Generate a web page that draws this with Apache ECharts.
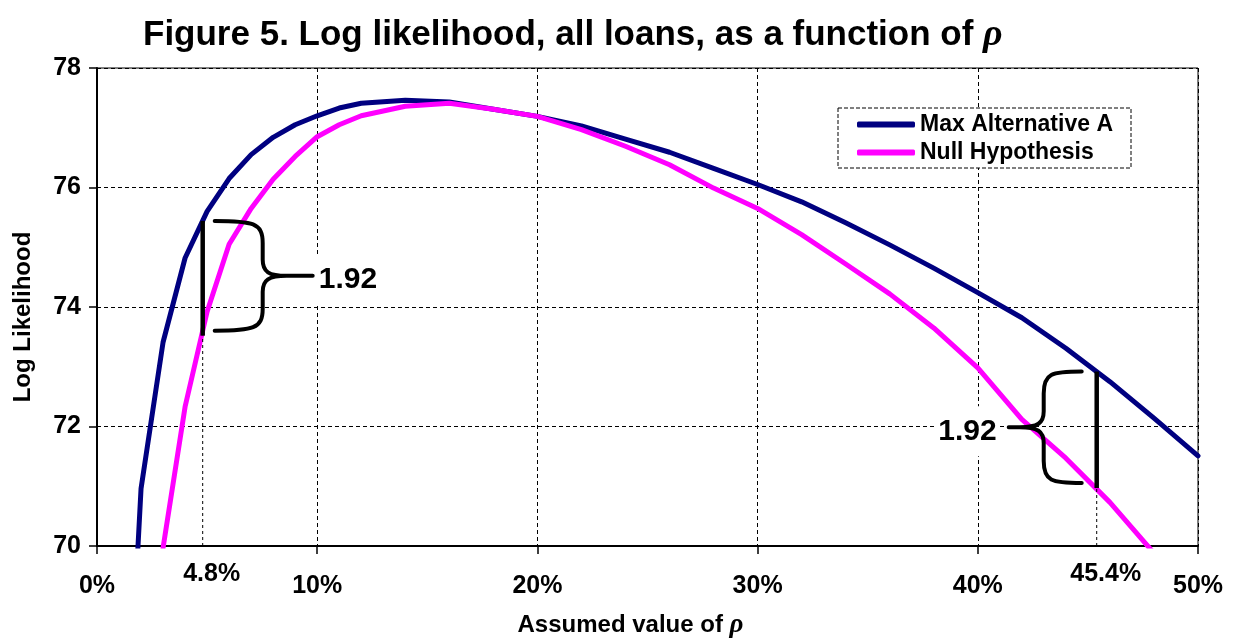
<!DOCTYPE html>
<html>
<head>
<meta charset="utf-8">
<script src="https://cdn.jsdelivr.net/npm/echarts@6/dist/echarts.min.js"></script>
<style>
    html, body { margin: 0; padding: 0; background: #fff; }
    #main { width: 1233px; height: 644px; }
</style>
</head>
<body>
<div id="main"></div>
<script>
// assumed rho (%) and log likelihood
var rhoPct = [1, 2, 3, 4, 5, 6, 7, 8, 9, 10, 11, 12, 14, 16, 18, 20, 22, 24, 26, 28, 30, 32, 34, 36, 38, 40, 42, 44, 46, 48, 50];
var maxAltA = [64.0, 70.96, 73.41, 74.82, 75.6, 76.15, 76.55, 76.84, 77.05, 77.2, 77.33, 77.41, 77.46, 77.43, 77.31, 77.19, 77.03, 76.81, 76.59, 76.32, 76.05, 75.76, 75.41, 75.04, 74.65, 74.24, 73.82, 73.31, 72.75, 72.14, 71.51];
var nullHyp = [null, null, 69.97, 72.33, 73.92, 75.05, 75.65, 76.14, 76.52, 76.85, 77.05, 77.2, 77.36, 77.41, 77.31, 77.19, 76.97, 76.69, 76.38, 75.99, 75.65, 75.21, 74.72, 74.22, 73.65, 72.98, 72.12, 71.47, 70.73, 69.88];

// confidence bounds (rho where the gap is 1.92)
var boundRho = [4.8, 45.4];
var boundLow = [73.52, 70.97];
var boundHigh = [75.44, 72.92];
var boundGap = ['1.92', '1.92'];
var boundLabels = ['4.8%', '45.4%'];

var yTicks = [70, 72, 74, 76, 78];

var FONT = 'Liberation Sans, Arial, sans-serif';

function pairs(xs, ys) {
    var out = [];
    for (var i = 0; i < xs.length; i++) {
        out.push([xs[i], ys[i] == null ? null : ys[i]]);
    }
    return out;
}

var boundData = [];
for (var i = 0; i < boundRho.length; i++) {
    boundData.push([boundRho[i], boundLow[i], boundHigh[i], i]);
}

// brace geometry: arm / spine / tip offsets from the black line
var braceShape = [
    { dir: 1, arm: 12, spine: 60, tip: 110 },
    { dir: -1, arm: 15, spine: 53, tip: 88 }
];

function bracePath(lx, t, b, s) {
    var d = s.dir;
    var x0 = lx + d * s.arm, xm = lx + d * s.spine, xt = lx + d * s.tip;
    var m = (t + b) / 2;
    var c = x0 + d * (s.spine - s.arm) * 0.8;
    var p = '';
    p += 'M' + x0 + ' ' + t + ' C' + c + ' ' + t + ' ' + xm + ' ' + (t + 2) + ' ' + xm + ' ' + (t + 22);
    p += ' L' + xm + ' ' + (m - 16) + ' C' + xm + ' ' + (m - 4) + ' ' + (xm + d * 6) + ' ' + m + ' ' + (xm + d * 24) + ' ' + m;
    p += ' L' + xt + ' ' + m;
    p += ' M' + x0 + ' ' + b + ' C' + c + ' ' + b + ' ' + xm + ' ' + (b - 2) + ' ' + xm + ' ' + (b - 22);
    p += ' L' + xm + ' ' + (m + 16) + ' C' + xm + ' ' + (m + 4) + ' ' + (xm + d * 6) + ' ' + m + ' ' + (xm + d * 24) + ' ' + m;
    return p;
}

function renderBound(params, api) {
    var idx = api.value(3);
    var base = api.coord([api.value(0), 70]);
    var lo = api.coord([api.value(0), api.value(1)]);
    var hi = api.coord([api.value(0), api.value(2)]);
    var s = braceShape[idx];
    var m = (hi[1] + lo[1] - 5) / 2;
    var txtX = s.dir > 0 ? lo[0] + s.tip + 4 : lo[0] - s.tip - 10;
    return {
        type: 'group',
        children: [
            {
                type: 'line',
                shape: { x1: base[0], y1: base[1], x2: lo[0], y2: lo[1] },
                style: { stroke: '#000', lineWidth: 1, lineDash: [3, 3] }
            },
            {
                type: 'line',
                shape: { x1: lo[0], y1: lo[1], x2: hi[0], y2: hi[1] },
                style: { stroke: '#000', lineWidth: 4.5 }
            },
            {
                type: 'path',
                shape: { pathData: bracePath(lo[0], hi[1], lo[1] - 5, s) },
                style: { stroke: '#000', lineWidth: 4, fill: null, lineCap: 'round' }
            },
            {
                type: 'text',
                style: {
                    text: boundGap[idx],
                    x: txtX, y: m + 4,
                    align: s.dir > 0 ? 'left' : 'right',
                    verticalAlign: 'middle',
                    fontSize: 30, fontWeight: 'bold', fontFamily: FONT,
                    fill: '#000',
                    backgroundColor: '#fff',
                    padding: [10, 2, 10, 2]
                },
                z2: 10
            },
            {
                type: 'text',
                style: {
                    text: boundLabels[idx],
                    x: base[0] + 9, y: base[1] + 28,
                    align: 'center', verticalAlign: 'middle',
                    fontSize: 25, fontWeight: 'bold', fontFamily: FONT,
                    fill: '#000'
                }
            }
        ]
    };
}

var myChart = echarts.init(document.getElementById('main'));

var option = {
    backgroundColor: '#fff',
    animation: false,
    textStyle: { fontFamily: FONT },
    title: {
        text: 'Figure 5. Log likelihood, all loans, as a function of {r|ρ}',
        left: 138,
        top: 11,
        textStyle: {
            fontSize: 35,
            fontWeight: 'bold',
            color: '#000',
            fontFamily: FONT,
            rich: {
                r: { fontFamily: 'Liberation Serif, serif', fontStyle: 'italic', fontSize: 38, color: '#000' }
            }
        }
    },
    grid: {
        left: 97,
        right: 35,
        top: 68,
        bottom: 93,
        show: true,
        borderColor: '#000',
        borderWidth: 1
    },
    legend: {
        orient: 'vertical',
        left: 838,
        top: 108,
        padding: [5, 18, 4, 19],
        itemGap: 5,
        itemWidth: 58,
        itemHeight: 6,
        itemTextGap: 7,
        backgroundColor: '#fff',
        borderColor: '#000',
        borderWidth: 1,
        borderType: 'dashed',
        textStyle: { fontSize: 23, fontWeight: 'bold', color: '#000', fontFamily: FONT },
        data: [
            { name: 'Max Alternative A', icon: 'roundRect' },
            { name: 'Null Hypothesis', icon: 'roundRect' }
        ]
    },
    xAxis: {
        type: 'value',
        min: 0,
        max: 50,
        interval: 10,
        name: 'Assumed value of {r|ρ}',
        nameLocation: 'middle',
        nameGap: 66,
        nameTextStyle: {
            fontSize: 24, fontWeight: 'bold', color: '#000', fontFamily: FONT,
            padding: [0, 34, 0, 0],
            rich: {
                r: { fontFamily: 'Liberation Serif, serif', fontStyle: 'italic', fontSize: 27, color: '#000' }
            }
        },
        axisLine: { show: true, lineStyle: { color: '#000', width: 2 } },
        axisTick: { show: true, length: 8, lineStyle: { color: '#000', width: 1.5 } },
        axisLabel: {
            formatter: '{value}%',
            margin: 28,
            fontSize: 25, fontWeight: 'bold', color: '#000', fontFamily: FONT
        },
        splitLine: { show: true, lineStyle: { color: '#000', width: 1, type: [4, 3] } }
    },
    yAxis: {
        type: 'value',
        min: yTicks[0],
        max: yTicks[yTicks.length - 1],
        interval: 2,
        name: 'Log Likelihood',
        nameLocation: 'middle',
        nameGap: 62,
        nameTextStyle: {
            fontSize: 24, fontWeight: 'bold', color: '#000', fontFamily: FONT,
            padding: [0, 20, 0, 0]
        },
        axisLine: { show: true, lineStyle: { color: '#000', width: 2 } },
        axisTick: { show: true, length: 8, lineStyle: { color: '#000', width: 1.5 } },
        axisLabel: {
            margin: 16,
            fontSize: 25, fontWeight: 'bold', color: '#000', fontFamily: FONT
        },
        splitLine: { show: true, lineStyle: { color: '#000', width: 1, type: [4, 3] } }
    },
    series: [
        {
            name: 'Max Alternative A',
            type: 'line',
            data: pairs(rhoPct, maxAltA),
            symbol: 'none',
            clip: true,
            color: '#000080',
            lineStyle: { color: '#000080', width: 5, join: 'round', cap: 'round' },
            z: 3
        },
        {
            name: 'Null Hypothesis',
            type: 'line',
            data: pairs(rhoPct, nullHyp),
            symbol: 'none',
            clip: true,
            color: '#ff00ff',
            lineStyle: { color: '#ff00ff', width: 5, join: 'round', cap: 'round' },
            z: 4
        },
        {
            name: 'bounds',
            type: 'custom',
            data: boundData,
            renderItem: renderBound,
            clip: false,
            silent: true,
            z: 5
        }
    ]
};

myChart.setOption(option);
</script>
</body>
</html>
